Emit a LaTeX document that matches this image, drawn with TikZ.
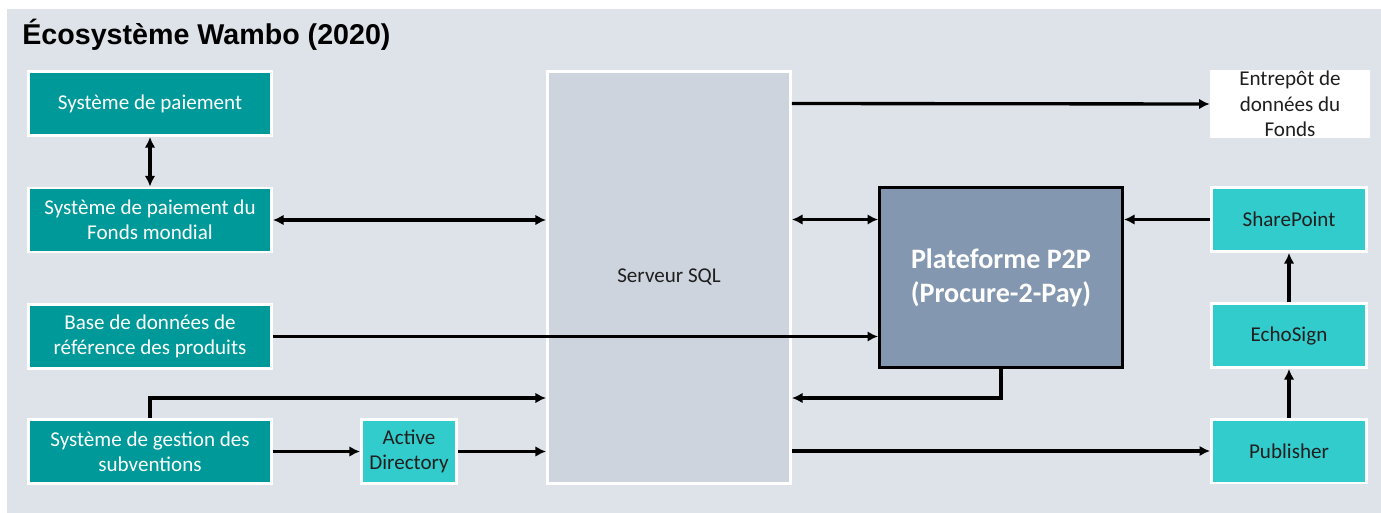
\documentclass[tikz,border=0pt]{standalone}
\usepackage{fontspec}
\setmainfont{Carlito}
\newfontfamily\titlefont{Liberation Sans}
\usetikzlibrary{arrows.meta, positioning}
\definecolor{bggrey}{HTML}{DEE2E9}
\definecolor{sqlgrey}{HTML}{CDD4DE}
\definecolor{tealbox}{HTML}{009999}
\definecolor{turq}{HTML}{33CCCC}
\definecolor{p2pblue}{HTML}{8497B0}
\definecolor{darktext}{HTML}{1F1F1F}
\tikzset{
  sysbox/.style={draw=white, line width=1.7pt, fill=tealbox, text=white, align=center,
    minimum width=4.86cm, minimum height=1.28cm, inner sep=0pt,
    font=\fontsize{12}{14.5}\selectfont},
  toolbox/.style={sysbox, fill=turq, text=darktext, minimum width=3.1cm},
  arr/.style={line width=1.9pt, -{Latex[length=6pt,width=6pt]}},
  dblarr/.style={line width=1.9pt, {Latex[length=6pt,width=6pt]}-{Latex[length=6pt,width=6pt]}}
}

\begin{document}
\begin{tikzpicture}[x=0.02cm, y=-0.02cm]
\fill[bggrey] (7,9) rectangle (1381,513);
\useasboundingbox (0,0) rectangle (1381,513);
\node[anchor=base west, inner sep=0pt, font=\titlefont\bfseries\fontsize{16.3}{19}\selectfont] (title) at (22,45) {Écosystème Wambo (2020)};

% left column
\node[sysbox] (pay) at (150,103.5) {Système de paiement};
\node[sysbox] (fm) at (150,220) {Système de paiement du\\Fonds mondial};
\node[sysbox] (base) at (150,336.5) {Base de données de\\référence des produits};
\node[sysbox] (gsub) at (150,451.5) {Système de gestion des\\subventions};
\node[toolbox, minimum width=1.9cm] (ad) at (409,451.5) {Active\\Directory};

% middle
\node[sysbox, fill=sqlgrey, text=darktext, minimum height=8.24cm] (sql) at (669,277.5) {Serveur SQL};
\node[draw=black, line width=1.7pt, fill=p2pblue, text=white, align=center,
  minimum width=4.86cm, minimum height=3.6cm,
  font=\bfseries\fontsize{16}{19.5}\selectfont] (p2p) at (1001,277.5) {Plateforme P2P\\(Procure-2-Pay)};

% right column
\node[fill=white, text=darktext, align=center, inner sep=0pt, minimum width=3.2cm,
  minimum height=1.36cm, font=\fontsize{12}{14.5}\selectfont] (ent) at (1290,104) {Entrepôt de\\données du\\Fonds};
\node[toolbox] (sp) at (1289,219.5) {SharePoint};
\node[toolbox] (es) at (1289,335.5) {EchoSign};
\node[toolbox] (pub) at (1289,451) {Publisher};

% connectors
\coordinate (lowlane) at (669,398);
\draw[dblarr] (pay) -- (fm);
\draw[dblarr] (fm.east) -- (sql.west |- fm.east);
\draw[dblarr] (sql.east |- sp.west) -- (p2p.west |- sp.west);
\draw[arr] (sp.west) -- (p2p.east |- sp.west);
\draw[arr] (base.east) -- (p2p.west |- base.east);
\draw[arr] (sql.east |- pay.east) -- (ent.west);
\draw[arr] (gsub.north) |- (sql.west |- lowlane);
\draw[arr] (gsub.east) -- (ad.west);
\draw[arr] (ad.east) -- (sql.west |- ad.east);
\draw[arr] (p2p.south) |- (sql.east |- lowlane);
\draw[arr] (sql.east |- pub.west) -- (pub.west);
\draw[arr] (es.north) -- (sp.south);
\draw[arr] (pub.north) -- (es.south);
\end{tikzpicture}
\end{document}
